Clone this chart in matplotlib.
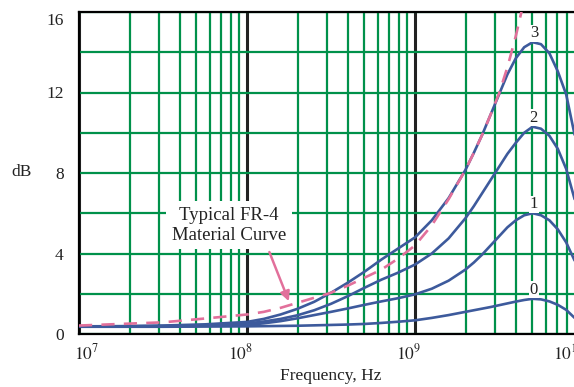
import matplotlib.pyplot as plt
import numpy as np
from matplotlib.ticker import FixedLocator, FuncFormatter
from matplotlib.transforms import ScaledTranslation

plt.rcParams['font.family'] = ['Liberation Serif', 'DejaVu Serif']
plt.rcParams['mathtext.fontset'] = 'stix'

# log10 of frequency (Hz) where the curves were read
log_freq = [7.0, 7.25, 7.5, 7.75, 8.0, 8.1, 8.2, 8.3, 8.4, 8.5, 8.6, 8.7, 8.8, 8.9,
            9.0, 9.1, 9.2, 9.3, 9.35, 9.4, 9.45, 9.5, 9.55, 9.6, 9.65, 9.7, 9.75,
            9.8, 9.85, 9.9, 9.95]

curve_0 = [0.36, 0.36, 0.36, 0.37, 0.38, 0.39, 0.40, 0.41, 0.43, 0.45, 0.47, 0.50, 0.55, 0.61,
           0.68, 0.80, 0.94, 1.10, 1.18, 1.26, 1.34, 1.43, 1.52, 1.61, 1.69, 1.75, 1.72,
           1.62, 1.45, 1.20, 0.80]
curve_1 = [0.37, 0.37, 0.38, 0.41, 0.45, 0.53, 0.64, 0.78, 0.94, 1.10, 1.27, 1.45, 1.62, 1.78,
           1.97, 2.25, 2.65, 3.20, 3.55, 3.95, 4.40, 4.85, 5.30, 5.65, 5.90, 6.00, 5.90,
           5.65, 5.20, 4.55, 3.65]
curve_2 = [0.38, 0.38, 0.40, 0.44, 0.52, 0.62, 0.75, 0.93, 1.18, 1.50, 1.88, 2.30, 2.70, 3.05,
           3.45, 4.00, 4.75, 5.75, 6.35, 7.00, 7.65, 8.30, 8.95, 9.50, 10.00, 10.30, 10.20,
           9.85, 9.20, 8.20, 6.70]
curve_3 = [0.38, 0.39, 0.42, 0.48, 0.60, 0.75, 0.97, 1.25, 1.60, 2.05, 2.55, 3.10, 3.70, 4.25,
           4.80, 5.65, 6.75, 8.15, 9.00, 9.90, 10.90, 11.90, 12.90, 13.70, 14.25, 14.50, 14.40,
           13.95, 13.05, 11.90, 9.90]
curves = [curve_0, curve_1, curve_2, curve_3]
curve_names = ['0', '1', '2', '3']

# typical FR-4 material curve (dashed)
fr4_log_freq = [7.0, 7.25, 7.5, 7.75, 8.0, 8.1, 8.2, 8.3, 8.4, 8.5, 8.6, 8.7, 8.8, 8.9,
                9.0, 9.1, 9.2, 9.3, 9.35, 9.4, 9.45, 9.5, 9.55, 9.6, 9.65]
fr4_db = [0.42, 0.50, 0.58, 0.77, 0.97, 1.10, 1.30, 1.55, 1.80, 2.05, 2.40, 2.80, 3.20, 3.75,
          4.40, 5.40, 6.70, 8.15, 9.00, 9.90, 10.90, 11.95, 13.25, 14.80, 16.60]

peak_freq = 5.1e9

green = '#00914a'
blue = '#3d5a9c'
pink = '#e2709b'

fig = plt.figure(figsize=(5.74, 3.87), dpi=100)
ax = fig.add_axes([79 / 574, 1 - 334 / 387, (583 - 79) / 574, (334 - 12) / 387])

f = 10 ** np.array(log_freq)
for vals, name in zip(curves, curve_names):
    ax.plot(f, vals, color=blue, lw=1.9, zorder=4, solid_capstyle='round',
            solid_joinstyle='round')
    ax.text(peak_freq, max(vals) + 0.05, name, ha='center', va='bottom', fontsize=12,
            color='#222222', zorder=5,
            bbox=dict(facecolor='white', edgecolor='none', pad=0.5))

ax.plot(10 ** np.array(fr4_log_freq), fr4_db, color=pink, lw=1.9, dashes=(5, 3.5), zorder=4)

ax.set_xscale('log')
ax.set_xlim(1e7, 1e10)
ax.set_ylim(0, 16)

# grid: black decades, green sub-decades and dB lines
ax.xaxis.set_major_locator(FixedLocator([1e7, 1e8, 1e9, 1e10]))
ax.xaxis.set_minor_locator(FixedLocator([m * 10 ** d for d in (7, 8, 9) for m in range(2, 10)]))
ax.xaxis.set_major_formatter(FuncFormatter(lambda v, p: r'$10^{%d}$' % round(np.log10(v))))
ax.xaxis.set_minor_formatter(FuncFormatter(lambda v, p: ''))
ax.yaxis.set_major_locator(FixedLocator([0, 4, 8, 12, 16]))
ax.yaxis.set_minor_locator(FixedLocator([2, 6, 10, 14]))

ax.xaxis.grid(True, which='major', color='#222222', lw=2.2)
ax.xaxis.grid(True, which='minor', color=green, lw=1.6)
ax.yaxis.grid(True, which='both', color=green, lw=1.6)
ax.set_axisbelow(True)

ax.tick_params(which='both', length=0, labelsize=12.5, colors='#222222')
ax.tick_params(axis='x', pad=7)
ax.tick_params(axis='y', pad=11)
for s in ax.spines.values():
    s.set_linewidth(1.6)
    s.set_color('black')

# nudge tick labels to where the original places them
fig.canvas.draw()
x_shift_px = [8, -6, -6, -14]
for lab, dx in zip(ax.get_xticklabels(), x_shift_px):
    lab.set_transform(lab.get_transform() + ScaledTranslation(dx / 100, 0, fig.dpi_scale_trans))
top = ax.get_yticklabels()[-1]
top.set_transform(top.get_transform() + ScaledTranslation(0, -7 / 100, fig.dpi_scale_trans))

ax.set_xlabel('Frequency, Hz', fontsize=12.5, color='#222222', labelpad=3)
fig.text(22 / 574, 1 - 172 / 387, 'dB', fontsize=12.5, ha='center', va='center', color='#222222')

ax.text(7.8e7, 5.4, 'Typical FR-4\nMaterial Curve', ha='center', va='center',
        fontsize=13.5, color='#222222', linespacing=1.2, zorder=5,
        bbox=dict(facecolor='white', edgecolor='none', pad=4))
ax.annotate('', xy=(1.8e8, 1.5), xytext=(1.34e8, 4.2), zorder=6,
            arrowprops=dict(arrowstyle='-|>', color=pink, lw=1.8, mutation_scale=14))

fig.savefig('out.png', dpi=100)
